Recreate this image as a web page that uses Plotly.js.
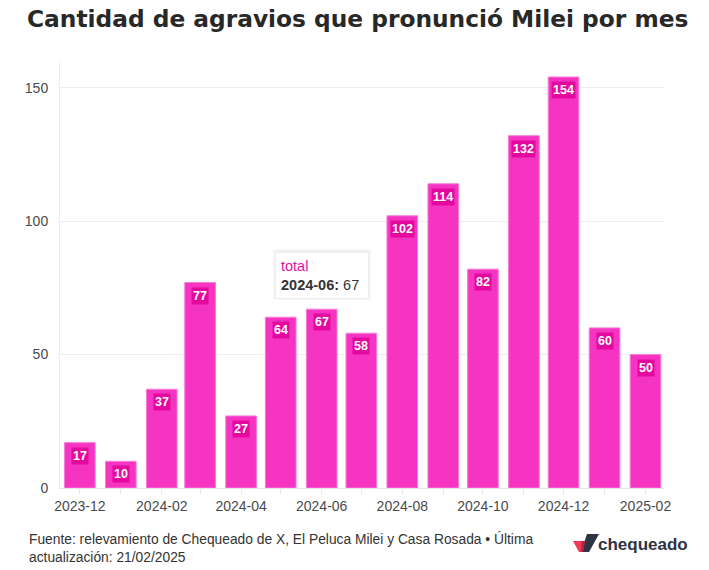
<!DOCTYPE html>
<html>
<head>
<meta charset="utf-8">
<script src="https://cdn.plot.ly/plotly-3.0.1.min.js"></script>
<style>
  html, body { margin: 0; padding: 0; background: #ffffff; }
  #chart { width: 709px; height: 570px; }
</style>
</head>
<body>
<div id="chart"></div>
<script>
// ---- data ----
const months = ['2023-12-01','2024-01-01','2024-02-01','2024-03-01','2024-04-01','2024-05-01','2024-06-01','2024-07-01','2024-08-01','2024-09-01','2024-10-01','2024-11-01','2024-12-01','2025-01-01','2025-02-01'];
const totals = [17, 10, 37, 77, 27, 64, 67, 58, 102, 114, 82, 132, 154, 60, 50];
const tooltipMonth = '2024-06';
const tooltipIndex = 6;
const titleText = 'Cantidad de agravios que pronunció Milei por mes';
const sourceText = 'Fuente: relevamiento de Chequeado de X, El Peluca Milei y Casa Rosada • Última<br>actualización: 21/02/2025';
const brandText = 'chequeado';

const PINK = '#f634c2';
const LABEL_BG = '#e4089f';

const trace = {
  type: 'bar',
  name: 'total',
  x: months,
  y: totals,
  marker: { color: PINK, line: { color: '#f97cd8', width: 1 } },
  hoverinfo: 'skip'
};

const labelAnnotations = months.map((m, i) => ({
  x: m, y: totals[i], xref: 'x', yref: 'y',
  text: String(totals[i]),
  showarrow: false, yanchor: 'top', xanchor: 'center', yshift: -4,
  bgcolor: LABEL_BG, borderpad: 1,
  font: { family: 'Liberation Sans, Arial, sans-serif', size: 12.5, color: '#ffffff', weight: 'bold' }
}));

const tooltipText = '<span style="color:#e30fa8">total</span><br><b>' + tooltipMonth + ':</b> ' + totals[tooltipIndex] + '&nbsp;';

const tooltipShadow = {
  x: months[tooltipIndex], y: totals[tooltipIndex], xref: 'x', yref: 'y',
  text: tooltipText,
  showarrow: false, yanchor: 'bottom', xanchor: 'center', yshift: 9, xshift: 0, align: 'left',
  bgcolor: 'rgba(0,0,0,0.05)', borderpad: 7,
  font: { family: 'Liberation Sans, Arial, sans-serif', size: 14.5, color: 'rgba(0,0,0,0)' }
};

const tooltip = {
  x: months[tooltipIndex], y: totals[tooltipIndex], xref: 'x', yref: 'y',
  text: tooltipText,
  showarrow: false, yanchor: 'bottom', xanchor: 'center', yshift: 10, align: 'left',
  bgcolor: '#ffffff', bordercolor: '#eeeeee', borderwidth: 1, borderpad: 5,
  font: { family: 'Liberation Sans, Arial, sans-serif', size: 14.5, color: '#333333' }
};

const source = {
  xref: 'paper', yref: 'paper', x: -0.0546, y: -0.097,
  xanchor: 'left', yanchor: 'top', align: 'left', showarrow: false,
  text: sourceText,
  font: { family: 'Liberation Sans, Arial, sans-serif', size: 13.8, color: '#333333' }
};

const brand = {
  xref: 'paper', yref: 'paper', x: 0.888, y: -0.132,
  xanchor: 'left', yanchor: 'middle', showarrow: false,
  text: '<b>' + brandText + '</b>',
  font: { family: 'Liberation Sans, Arial, sans-serif', size: 17, color: '#2d3444' }
};

const logoSvg = '<svg xmlns="http://www.w3.org/2000/svg" viewBox="0 0 26 18">' +
  '<polygon points="14,0 26,0 16,18 8,18" fill="#2d3444"/>' +
  '<polygon points="0,7 12,7 10,18 6,18" fill="#ef3b57"/>' +
  '<polygon points="8.8,7 12,7 10,18 8,18" fill="#b8203f"/>' +
  '</svg>';

const layout = {
  width: 709, height: 570,
  margin: { l: 60, r: 45, t: 61, b: 82 },
  paper_bgcolor: '#ffffff', plot_bgcolor: '#ffffff',
  title: {
    text: titleText,
    xref: 'container', yref: 'container', x: 27/709, xanchor: 'left',
    y: 1 - 11/570, yanchor: 'top',
    font: { family: 'DejaVu Sans, sans-serif', size: 23.3, color: '#282828', weight: 'bold' }
  },
  showlegend: false,
  hovermode: false,
  bargap: 0.2,
  xaxis: {
    type: 'date',
    range: ['2023-11-16', '2025-02-15'],
    dtick: 'M2', tick0: '2023-12-01', tickformat: '%Y-%m',
    ticks: 'outside', ticklen: 5, tickcolor: '#e6e6e6',
    minor: { dtick: 'M1', ticks: 'outside', ticklen: 5, tickcolor: '#e6e6e6', showgrid: false },
    showgrid: false, showline: true, linecolor: '#e6e6e6', linewidth: 1,
    tickfont: { family: 'Liberation Sans, Arial, sans-serif', size: 14, color: '#4a4a4a' },
    fixedrange: true
  },
  yaxis: {
    range: [0, 160],
    tickvals: [0, 50, 100, 150],
    showgrid: true, gridcolor: '#ececec', gridwidth: 1,
    zeroline: false,
    showline: true, linecolor: '#ececec', linewidth: 1,
    ticks: '', ticklabelstandoff: 8,
    tickfont: { family: 'Liberation Sans, Arial, sans-serif', size: 14, color: '#4a4a4a' },
    fixedrange: true
  },
  annotations: labelAnnotations.concat([tooltipShadow, tooltip, source, brand]),
  images: [{
    source: 'data:image/svg+xml;base64,' + btoa(logoSvg),
    xref: 'paper', yref: 'paper',
    x: (573 - 60) / 604, y: (488 - 534) / 426.7,
    sizex: 26 / 604, sizey: 18 / 426.7,
    xanchor: 'left', yanchor: 'top', sizing: 'stretch', layer: 'above'
  }]
};

Plotly.newPlot('chart', [trace], layout, { displayModeBar: false, staticPlot: true });
</script>
</body>
</html>
